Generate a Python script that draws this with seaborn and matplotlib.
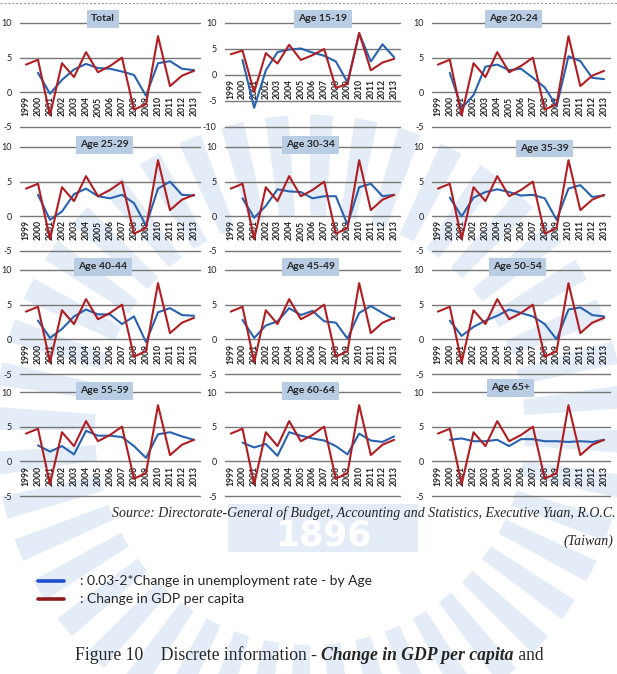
import matplotlib
matplotlib.use('Agg')
import matplotlib.pyplot as plt
import seaborn as sns
from matplotlib.lines import Line2D
from matplotlib.patches import Wedge, Rectangle

# ---------------------------------------------------------
# Data
# ---------------------------------------------------------
years = list(range(1999, 2014))
years_unemp = years[1:]

gdp_change = [4.0, 4.7, -3.3, 4.2, 2.2, 5.8, 2.9, 3.8, 5.0, -2.5, -1.7, 8.1, 0.9, 2.4, 3.1]

unemp_total = [2.8, -0.2, 1.8, 3.3, 4.1, 3.5, 3.4, 3.0, 2.5, -0.5, 4.2, 4.5, 3.4, 3.2]
unemp_15_19 = [2.9, -6.3, 0.9, 4.4, 4.9, 5.1, 4.3, 3.7, 2.6, -1.4, 8.0, 2.6, 5.9, 3.4]
unemp_20_24 = [2.8, -2.3, -0.4, 3.7, 4.0, 3.2, 3.4, 2.1, 0.7, -2.0, 5.2, 4.5, 2.1, 1.9]
unemp_25_29 = [3.1, -0.5, 0.7, 3.2, 4.0, 2.9, 2.6, 3.1, 1.9, -1.3, 4.0, 5.0, 3.1, 3.0]
unemp_30_34 = [2.6, -0.2, 1.5, 3.9, 3.6, 3.5, 2.6, 2.9, 2.9, -1.2, 4.2, 4.7, 2.9, 3.1]
unemp_35_39 = [2.7, 0.0, 2.7, 3.5, 3.9, 3.5, 3.0, 3.1, 2.6, -0.5, 4.0, 4.5, 2.8, 3.0]
unemp_40_44 = [2.7, 0.2, 1.5, 3.3, 4.3, 3.6, 3.6, 2.2, 3.3, -0.4, 3.9, 4.5, 3.5, 3.4]
unemp_45_49 = [2.8, 0.2, 2.0, 2.6, 4.5, 3.5, 4.1, 2.6, 2.4, 0.1, 3.8, 4.8, 3.8, 2.9]
unemp_50_54 = [2.7, 0.5, 1.8, 2.7, 3.4, 4.3, 3.8, 3.3, 2.2, 0.0, 4.3, 4.6, 3.5, 3.3]
unemp_55_59 = [2.3, 1.4, 2.2, 1.0, 4.4, 3.7, 3.7, 3.5, 2.2, 0.5, 3.9, 4.2, 3.6, 3.1]
unemp_60_64 = [2.7, 2.0, 2.5, 0.8, 4.2, 3.7, 3.3, 3.0, 2.2, 1.0, 4.0, 3.0, 2.8, 3.6]
unemp_65_up = [3.1, 3.3, 2.9, 2.9, 3.1, 2.2, 3.2, 3.2, 2.9, 2.9, 2.8, 2.9, 2.8, 3.1]

panel_names = ['Total', 'Age 15-19', 'Age 20-24',
               'Age 25-29', 'Age 30-34', 'Age 35-39',
               'Age 40-44', 'Age 45-49', 'Age 50-54',
               'Age 55-59', 'Age 60-64', 'Age 65+']
panel_series = [unemp_total, unemp_15_19, unemp_20_24,
                unemp_25_29, unemp_30_34, unemp_35_39,
                unemp_40_44, unemp_45_49, unemp_50_54,
                unemp_55_59, unemp_60_64, unemp_65_up]

# ---------------------------------------------------------
# Layout (pixels of a 617x674 canvas)
# ---------------------------------------------------------
W, H = 617, 674
col_left = [20, 225, 432]
col_width = [180, 175, 178]
row_top = [23, 147, 270, 392]
ax_h = 104

# title box centre in axes fraction
title_pos = [(0.46, 1.04), (0.56, 1.04), (0.46, 1.04),
             (0.47, 1.02), (0.49, 1.02), (0.63, 0.985),
             (0.46, 1.03), (0.49, 1.03), (0.48, 1.03),
             (0.47, 1.01), (0.49, 1.01), (0.44, 1.04)]

BLUE = '#2863B0'
RED = '#B01E22'
GRID = '#777777'
WM = '#E4ECF7'

sns.set_style('white')
plt.rcParams['font.family'] = ['Lato', 'DejaVu Sans']

fig = plt.figure(figsize=(W / 100, H / 100), dpi=100)

# faint watermark in the background
bg = fig.add_axes([0, 0, 1, 1], zorder=-5)
bg.set_xlim(0, W)
bg.set_ylim(H, 0)
bg.axis('off')
for k in range(44):
    a0 = k * (360 / 44)
    bg.add_patch(Wedge((310, 430), 315, a0, a0 + 4.2, width=100, color=WM, lw=0))
bg.add_patch(Rectangle((228, 504), 190, 48, color=WM, lw=0))
bg.text(323, 535, '1896', ha='center', va='center', fontsize=25,
        fontweight='bold', color='white', family='DejaVu Sans')

# dotted rule at the very top
fig.add_artist(Line2D([0, 1], [1 - 3 / H] * 2, color='#999999', lw=0.8, ls=(0, (2, 1.5))))

for i, (name, series) in enumerate(zip(panel_names, panel_series)):
    r, c = divmod(i, 3)
    rect = [col_left[c] / W, (H - row_top[r] - ax_h) / H, col_width[c] / W, ax_h / H]
    ax = fig.add_axes(rect)
    ax.set_facecolor('none')
    for s in ax.spines.values():
        s.set_visible(False)
    # category labels sit on the zero line, like the Excel original
    ax.spines['bottom'].set_position(('data', 0))

    if name == 'Age 15-19':
        yt = [10, 5, 0, -5, -10]
    else:
        yt = [10, 5, 0, -5]
    for v in yt:
        ax.axhline(v, color=GRID, lw=1.0, zorder=0, clip_on=False)

    sns.lineplot(x=years_unemp, y=series, color=BLUE, lw=1.5, ax=ax, zorder=3)
    sns.lineplot(x=years, y=gdp_change, color=RED, lw=1.5, ax=ax, zorder=4)

    ax.set_xlim(1998.5, 2013.5)
    ax.set_ylim(min(yt), max(yt))
    ax.set_yticks(yt)
    ax.set_yticklabels([str(v) for v in yt])
    ax.set_xticks(years)
    ax.set_xticklabels([str(y) for y in years], fontweight='bold')
    ax.set_xlabel('')
    ax.set_ylabel('')

    ax.tick_params(axis='x', length=0, pad=3, labelsize=6.2, labelcolor='#222222',
                   labelrotation=90)
    ax.tick_params(axis='y', length=0, pad=6, labelsize=6.5, labelcolor='#222222')

    tx, ty = title_pos[i]
    ax.text(tx, ty, name, transform=ax.transAxes, ha='center', va='center',
            fontsize=7.5, fontweight='bold', zorder=6,
            bbox=dict(boxstyle='square,pad=0.4', fc='#B8CCE4', ec='none'))

# source note
serif = ['Liberation Serif', 'DejaVu Serif']
fig.text(616 / W, 1 - 513 / H,
         'Source: Directorate-General of Budget, Accounting and Statistics, Executive Yuan, R.O.C.',
         ha='right', va='center', fontsize=10, style='italic', family=serif)
fig.text(613 / W, 1 - 541 / H, '(Taiwan)', ha='right', va='center',
         fontsize=10, style='italic', family=serif)

# legend drawn by hand as in the document
fig.add_artist(Line2D([38 / W, 64 / W], [1 - 581 / H] * 2, color='#1F4FCC', lw=2.6))
fig.add_artist(Line2D([38 / W, 64 / W], [1 - 599 / H] * 2, color='#8E1A1A', lw=2.6))
fig.text(80 / W, 1 - 581 / H, ': 0.03-2*Change in unemployment rate - by Age',
         ha='left', va='center', fontsize=10)
fig.text(80 / W, 1 - 599 / H, ': Change in GDP per capita',
         ha='left', va='center', fontsize=10)

# caption with a bold italic part
renderer = fig.canvas.get_renderer()
x0 = 75 / W
yc = 1 - 655 / H
parts = [('Figure 10    Discrete information - ', 'normal', 'normal'),
         ('Change in GDP per capita', 'italic', 'bold'),
         (' and', 'normal', 'normal')]
for txt, st, wt in parts:
    t = fig.text(x0, yc, txt, ha='left', va='center', fontsize=12.7,
                 style=st, fontweight=wt, family=serif)
    bb = t.get_window_extent(renderer)
    x0 += bb.width / (W)

fig.savefig('out.png', dpi=100)
